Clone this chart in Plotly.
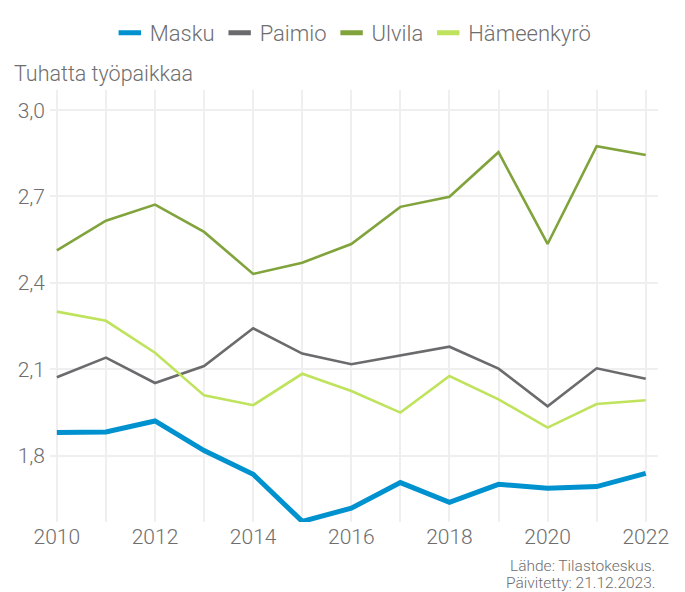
import plotly.graph_objects as go

years = list(range(2010, 2023))
masku = [1.880, 1.882, 1.920, 1.817, 1.735, 1.571, 1.617, 1.706, 1.637, 1.700, 1.686, 1.692, 1.738]
paimio = [2.072, 2.140, 2.052, 2.111, 2.242, 2.154, 2.117, 2.148, 2.178, 2.102, 1.971, 2.103, 2.067]
ulvila = [2.513, 2.616, 2.672, 2.577, 2.431, 2.470, 2.535, 2.664, 2.699, 2.854, 2.535, 2.875, 2.844]
hameenkyro = [2.300, 2.268, 2.157, 2.009, 1.975, 2.084, 2.024, 1.949, 2.076, 1.995, 1.897, 1.979, 1.992]
x_ticklabels = [str(y) if y % 2 == 0 else "" for y in years]
y_ticks = [1.8, 2.1, 2.4, 2.7, 3.0]

series = [
    ("Masku", masku, "#0091cf", 5),
    ("Paimio", paimio, "#6b6b6e", 2.6),
    ("Ulvila", ulvila, "#80a33c", 2.6),
    ("Hämeenkyrö", hameenkyro, "#bfe35c", 2.6),
]

FONT = "Roboto"
GREY = "#6e6e6e"
fig = go.Figure()
for name, vals, col, w in series:
    fig.add_trace(go.Scatter(x=years, y=vals, name=name, mode="lines",
                             line=dict(color=col, width=w), showlegend=False))
# legend entries with short thick swatches
for name, vals, col, w in series:
    fig.add_trace(go.Scatter(x=[None], y=[None], name=name, mode="markers",
                             marker=dict(symbol="line-ew", size=18,
                                         line=dict(color=col, width=5.5)),
                             showlegend=True))

fig.update_layout(
    width=685, height=592,
    margin=dict(l=50, r=27, t=90, b=70, autoexpand=False),
    paper_bgcolor="white", plot_bgcolor="white",
    separators=", ",
    font=dict(family=FONT, color=GREY, size=20, weight=300),
    showlegend=True,
    legend=dict(orientation="h", x=0.498, xanchor="center", y=1.132, yanchor="middle",
                font=dict(size=22, color=GREY, family=FONT, weight=300),
                itemwidth=30, tracegroupgap=0),
    xaxis=dict(range=[2009.86, 2022.25], tickvals=years, ticktext=x_ticklabels,
               showgrid=True, gridcolor="#efefef", gridwidth=2, zeroline=False,
               showline=False, ticks="", tickfont=dict(size=21, color=GREY)),
    yaxis=dict(range=[1.569, 3.07], tickvals=y_ticks, tickformat=".1f",
               showgrid=True, gridcolor="#efefef", gridwidth=2, zeroline=False,
               showline=False, ticks="", ticklabelstandoff=4,
               tickfont=dict(size=21, color=GREY)),
    annotations=[
        dict(text="Tuhatta työpaikkaa", xref="paper", yref="paper", x=-0.063, y=1.039,
             xanchor="left", yanchor="middle", showarrow=False,
             font=dict(size=21.5, color=GREY, family=FONT, weight=300)),
        dict(text="Lähde: Tilastokeskus.", xref="paper", yref="paper",
             x=0.998, y=-0.101, xanchor="right", yanchor="middle",
             showarrow=False, font=dict(size=15.5, color=GREY, family=FONT, weight=300)),
        dict(text="Päivitetty: 21.12.2023.", xref="paper", yref="paper",
             x=0.998, y=-0.141, xanchor="right", yanchor="middle",
             showarrow=False, font=dict(size=15.5, color=GREY, family=FONT, weight=300)),
    ],
)

fig.write_html("out.html", config={"displayModeBar": False},
               post_script="document.body.style.margin='0';")
